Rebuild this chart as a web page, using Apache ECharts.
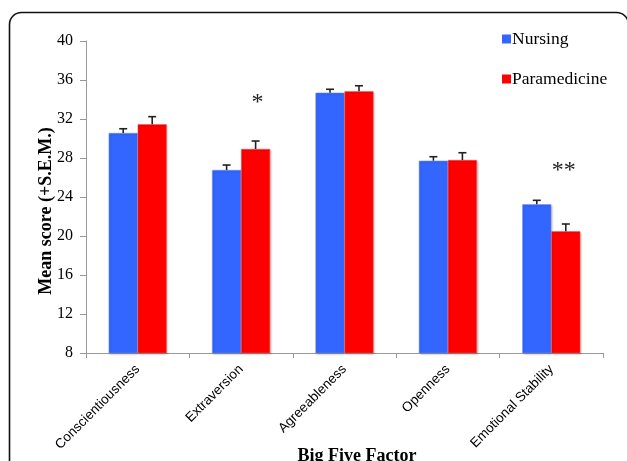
<!DOCTYPE html>
<html><head><meta charset="utf-8">
<script src="https://cdn.jsdelivr.net/npm/echarts@6/dist/echarts.min.js"></script>
<style>html,body{margin:0;padding:0;background:#fff}#c{width:627px;height:461px}</style>
</head><body><div id="c"></div>
<script>
var categories = ['Conscientiousness','Extraversion','Agreeableness','Openness','Emotional Stability'];
var nursing = [30.56, 26.77, 34.7, 27.72, 23.25];
var nursingSem = [0.44, 0.51, 0.35, 0.41, 0.41];
var paramedicine = [31.46, 28.92, 34.84, 27.79, 20.48];
var paramedicineSem = [0.78, 0.82, 0.57, 0.75, 0.75];
var yTicks = [8, 12, 16, 20, 24, 28, 32, 36, 40];
var sigMarks = ['', '*', '', '', '**'];
var sigHeight = [0, 34.2, 0, 0, 27.2];

var BW = 29;
var serif = 'Liberation Serif';
var sans = 'Liberation Sans';
function errData(vals, sems){ return vals.map(function(v,i){ return [i, v, v + sems[i]]; }); }
function errSeries(name, vals, sems, off){
  return {
    type:'custom', name: name + ' SEM', z: 5, silent:true,
    data: errData(vals, sems),
    encode:{x:0, y:[1,2]},
    renderItem: function(params, api){
      var i = api.value(0);
      var p0 = api.coord([i, api.value(1)]);
      var p1 = api.coord([i, api.value(2)]);
      var x = p0[0] + off;
      return {type:'group', children:[
        {type:'line', shape:{x1:x, y1:p0[1], x2:x, y2:p1[1]}, style:{stroke:'#222', lineWidth:1.6}},
        {type:'line', shape:{x1:x-4, y1:p1[1], x2:x+4, y2:p1[1]}, style:{stroke:'#222', lineWidth:1.6}}
      ]};
    }
  };
}
var sigData = sigMarks.map(function(s,i){ return [i, sigHeight[i]]; }).filter(function(d){ return sigMarks[d[0]] !== ''; });

var chart = echarts.init(document.getElementById('c'));
chart.setOption({
  animation:false,
  textStyle:{fontFamily:serif},
  graphic:[
    {type:'rect', shape:{x:9.5, y:12.5, width:619, height:480, r:12}, style:{fill:'none', stroke:'#111', lineWidth:1.6}, z:-1},
    {type:'text', x:46, y:211, rotation:Math.PI/2, style:{text:'Mean score (+S.E.M.)', fontFamily:serif, fontSize:18, fontWeight:'bold', fill:'#000', align:'center', verticalAlign:'middle'}},
    {type:'text', x:357, y:456, style:{text:'Big Five Factor', fontFamily:serif, fontSize:18, fontWeight:'bold', fill:'#000', align:'center', verticalAlign:'middle'}}
  ],
  legend:{
    orient:'vertical', left:497, top:24, itemGap:20, itemWidth:9, itemHeight:9,
    icon:'rect', itemStyle:{borderWidth:0, shadowBlur:0, shadowOffsetX:0, shadowOffsetY:0},
    textStyle:{fontFamily:serif, fontSize:17.5, lineHeight:20, color:'#000', padding:[0,0,0,-4]},
    data:['Nursing','Paramedicine']
  },
  grid:{left:86, right:24, top:41, bottom:108, outerBoundsMode:'none', containLabel:false},
  xAxis:{
    type:'category', data:categories,
    axisLine:{lineStyle:{color:'#999'}},
    axisTick:{show:true, length:5, lineStyle:{color:'#999'}},
    axisLabel:{rotate:45, fontFamily:sans, fontSize:13.5, color:'#000', margin:14, interval:0}
  },
  yAxis:{
    type:'value', min:8, max:40, interval:4,
    axisLine:{show:true, lineStyle:{color:'#999'}},
    axisTick:{show:true, length:6, lineStyle:{color:'#999'}},
    splitLine:{show:false},
    axisLabel:{fontFamily:serif, fontSize:16, color:'#000', margin:13,
      formatter:function(v){ return yTicks.indexOf(v) >= 0 ? String(v) : ''; }}
  },
  series:[
    {name:'Nursing', type:'bar', data:nursing, barWidth:BW, barGap:'0%',
      itemStyle:{color:'#3366FF', borderColor:'#6f93ff', borderWidth:0.5, shadowColor:'rgba(0,0,0,0.25)', shadowBlur:2, shadowOffsetX:1, shadowOffsetY:1}},
    {name:'Paramedicine', type:'bar', data:paramedicine, barWidth:BW, barGap:'0%',
      itemStyle:{color:'#FF0000', borderColor:'#ff5050', borderWidth:0.5, shadowColor:'rgba(0,0,0,0.25)', shadowBlur:2, shadowOffsetX:1, shadowOffsetY:1}},
    errSeries('Nursing', nursing, nursingSem, -BW/2),
    errSeries('Paramedicine', paramedicine, paramedicineSem, BW/2),
    {type:'custom', name:'sig', silent:true, z:6, data:sigData, encode:{x:0,y:1},
      renderItem:function(params, api){
        var i = api.value(0);
        var p = api.coord([i, api.value(1)]);
        var dx = sigMarks[i].length > 1 ? BW/2 - 2 : BW/2 + 2;
        return {type:'text', x:p[0]+dx, y:p[1]+5, style:{text: sigMarks[i], fontFamily:serif, fontSize:24, fill:'#222', align:'center', verticalAlign:'middle'}};
      }}
  ]
});
</script></body></html>
